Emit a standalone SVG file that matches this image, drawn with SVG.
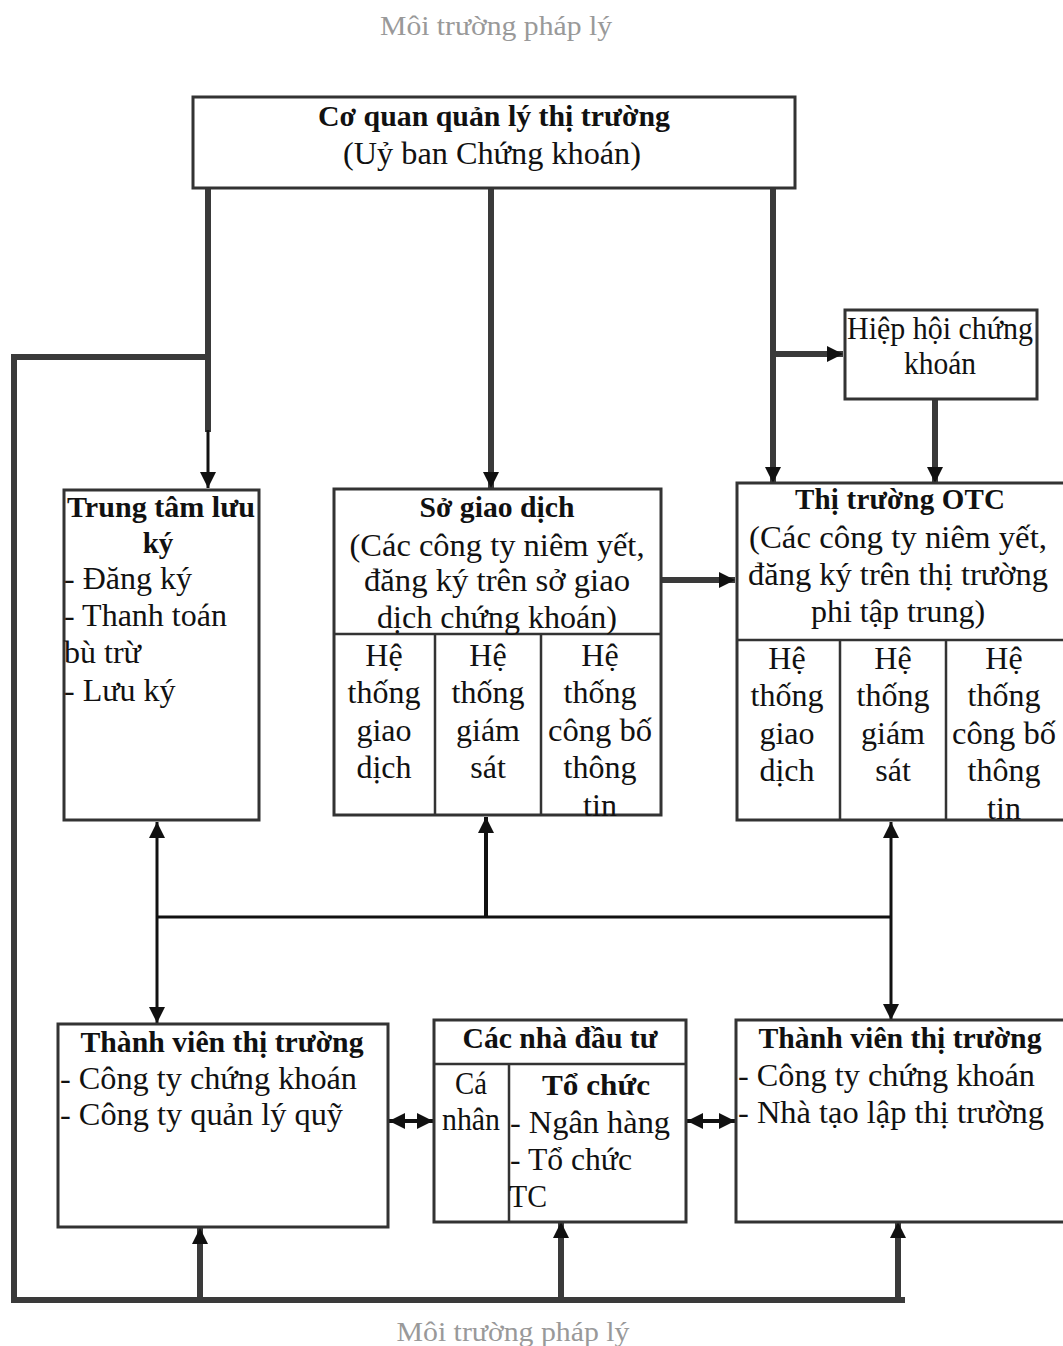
<svg xmlns="http://www.w3.org/2000/svg" width="1063" height="1346" viewBox="0 0 1063 1346">
<style>
text{font-family:"Liberation Serif","DejaVu Serif",serif;fill:#111;font-size:32px}
.b{font-weight:bold;font-size:29px}
.c{text-anchor:middle}
.env{fill:#999;font-size:28px}
.box{fill:#fff;stroke:#333;stroke-width:3}
.div{stroke:#333;stroke-width:2.5;fill:none}
.thick{stroke:#3a3a3a;stroke-width:6;fill:none}
.med{stroke:#111;stroke-width:4;fill:none}
.thin{stroke:#111;stroke-width:3;fill:none}
</style>
<defs>
<marker id="ah" viewBox="0 0 10 10" refX="10" refY="5" markerWidth="16" markerHeight="18" markerUnits="userSpaceOnUse" orient="auto-start-reverse">
<path d="M0,0 L10,5 L0,10 z" fill="#111"/>
</marker>
</defs>

<text class="env c" x="496" y="35" textLength="232" lengthAdjust="spacingAndGlyphs">Môi trường pháp lý</text>
<text class="env c" x="513" y="1341" textLength="233" lengthAdjust="spacingAndGlyphs">Môi trường pháp lý</text>

<g id="connectors">
<path class="thick" d="M208 188 V432"/>
<path class="thin" d="M208 430 V488" marker-end="url(#ah)"/>
<path class="thick" d="M491 188 V488" marker-end="url(#ah)"/>
<path class="thick" d="M773 188 V483" marker-end="url(#ah)"/>
<path class="thick" d="M775 354 H843" marker-end="url(#ah)"/>
<path class="thick" d="M935 399 V483" marker-end="url(#ah)"/>
<path class="thick" d="M661 580 H735" marker-end="url(#ah)"/>
<path class="thick" d="M208 357 H14 V1300 H905"/>
<path class="thick" d="M200 1300 V1228" marker-end="url(#ah)"/>
<path class="thick" d="M561 1300 V1222" marker-end="url(#ah)"/>
<path class="thick" d="M898 1300 V1222" marker-end="url(#ah)"/>
<path class="thin" d="M157 917 H891"/>
<path class="thin" d="M157 822 V1023" marker-start="url(#ah)" marker-end="url(#ah)"/>
<path class="med" d="M486 917 V817" marker-end="url(#ah)"/>
<path class="thin" d="M891 822 V1020" marker-start="url(#ah)" marker-end="url(#ah)"/>
<path class="med" d="M389 1121 H433" marker-start="url(#ah)" marker-end="url(#ah)"/>
<path class="med" d="M687 1121 H735" marker-start="url(#ah)" marker-end="url(#ah)"/>
</g>

<g id="co-quan">
<rect class="box" x="193" y="97" width="602" height="91"/>
<text class="b c" x="494" y="126" textLength="352" lengthAdjust="spacingAndGlyphs">Cơ quan quản lý thị trường</text>
<text class="c" x="492" y="164" textLength="298" lengthAdjust="spacingAndGlyphs">(Uỷ ban Chứng khoán)</text>
</g>

<g id="hiep-hoi">
<rect class="box" x="845" y="310" width="192" height="89"/>
<text class="c" x="940" y="339" textLength="186" lengthAdjust="spacingAndGlyphs">Hiệp hội chứng</text>
<text class="c" x="940" y="374" textLength="72" lengthAdjust="spacingAndGlyphs">khoán</text>
</g>

<g id="trung-tam">
<rect class="box" x="64" y="490" width="195" height="330"/>
<text class="b c" x="161" y="517" textLength="188" lengthAdjust="spacingAndGlyphs">Trung tâm lưu</text>
<text class="b c" x="158" y="553">ký</text>
<text x="64" y="589">- Đăng ký</text>
<text x="64" y="626">- Thanh toán</text>
<text x="64" y="663">bù trừ</text>
<text x="64" y="701">- Lưu ký</text>
</g>

<g id="so-giao-dich">
<rect class="box" x="334" y="489" width="327" height="326"/>
<path class="div" d="M334 634 H661 M435 634 V815 M541 634 V815"/>
<text class="b c" x="497" y="517" textLength="155" lengthAdjust="spacingAndGlyphs">Sở giao dịch</text>
<text class="c" x="497" y="556" textLength="295" lengthAdjust="spacingAndGlyphs">(Các công ty niêm yết,</text>
<text class="c" x="497" y="591" textLength="266" lengthAdjust="spacingAndGlyphs">đăng ký trên sở giao</text>
<text class="c" x="497" y="628" textLength="240" lengthAdjust="spacingAndGlyphs">dịch chứng khoán)</text>
<text class="c" x="384" y="666">Hệ</text>
<text class="c" x="384" y="703">thống</text>
<text class="c" x="384" y="741">giao</text>
<text class="c" x="384" y="778">dịch</text>
<text class="c" x="488" y="666">Hệ</text>
<text class="c" x="488" y="703">thống</text>
<text class="c" x="488" y="741">giám</text>
<text class="c" x="488" y="778">sát</text>
<text class="c" x="600" y="666">Hệ</text>
<text class="c" x="600" y="703">thống</text>
<text class="c" x="600" y="741" textLength="104" lengthAdjust="spacingAndGlyphs">công bố</text>
<text class="c" x="600" y="778">thông</text>
<text class="c" x="600" y="816">tin</text>
</g>

<g id="otc">
<rect class="box" x="737" y="483" width="330" height="337"/>
<path class="div" d="M737 640 H1063 M840 640 V820 M946 640 V820"/>
<text class="b c" x="900" y="509" textLength="210" lengthAdjust="spacing">Thị trường OTC</text>
<text class="c" x="898" y="548" textLength="298" lengthAdjust="spacingAndGlyphs">(Các công ty niêm yết,</text>
<text class="c" x="898" y="585" textLength="300" lengthAdjust="spacingAndGlyphs">đăng ký trên thị trường</text>
<text class="c" x="898" y="622">phi tập trung)</text>
<text class="c" x="787" y="669">Hệ</text>
<text class="c" x="787" y="706">thống</text>
<text class="c" x="787" y="744">giao</text>
<text class="c" x="787" y="781">dịch</text>
<text class="c" x="893" y="669">Hệ</text>
<text class="c" x="893" y="706">thống</text>
<text class="c" x="893" y="744">giám</text>
<text class="c" x="893" y="781">sát</text>
<text class="c" x="1004" y="669">Hệ</text>
<text class="c" x="1004" y="706">thống</text>
<text class="c" x="1004" y="744" textLength="104" lengthAdjust="spacingAndGlyphs">công bố</text>
<text class="c" x="1004" y="781">thông</text>
<text class="c" x="1004" y="819">tin</text>
</g>

<g id="thanh-vien-1">
<rect class="box" x="58" y="1024" width="330" height="203"/>
<text class="b c" x="222" y="1052" textLength="283" lengthAdjust="spacingAndGlyphs">Thành viên thị trường</text>
<text x="60" y="1089" textLength="297" lengthAdjust="spacingAndGlyphs">- Công ty chứng khoán</text>
<text x="60" y="1125" textLength="283" lengthAdjust="spacingAndGlyphs">- Công ty quản lý quỹ</text>
</g>

<g id="nha-dau-tu">
<rect class="box" x="434" y="1020" width="252" height="202"/>
<path class="div" d="M434 1064 H686 M509 1064 V1222"/>
<text class="b c" x="560" y="1048" textLength="195" lengthAdjust="spacingAndGlyphs">Các nhà đầu tư</text>
<text class="c" x="471" y="1094" textLength="32" lengthAdjust="spacingAndGlyphs">Cá</text>
<text class="c" x="471" y="1130" textLength="58" lengthAdjust="spacingAndGlyphs">nhân</text>
<text class="b c" x="596" y="1095" textLength="108" lengthAdjust="spacingAndGlyphs">Tổ chức</text>
<text x="510" y="1133" textLength="160" lengthAdjust="spacingAndGlyphs">- Ngân hàng</text>
<text x="510" y="1170" textLength="122" lengthAdjust="spacingAndGlyphs">- Tổ chức</text>
<text x="509" y="1207" textLength="38" lengthAdjust="spacingAndGlyphs">TC</text>
</g>

<g id="thanh-vien-2">
<rect class="box" x="736" y="1020" width="330" height="202"/>
<text class="b c" x="900" y="1048" textLength="283" lengthAdjust="spacingAndGlyphs">Thành viên thị trường</text>
<text x="738" y="1086" textLength="297" lengthAdjust="spacingAndGlyphs">- Công ty chứng khoán</text>
<text x="738" y="1123" textLength="306" lengthAdjust="spacingAndGlyphs">- Nhà tạo lập thị trường</text>
</g>
</svg>
